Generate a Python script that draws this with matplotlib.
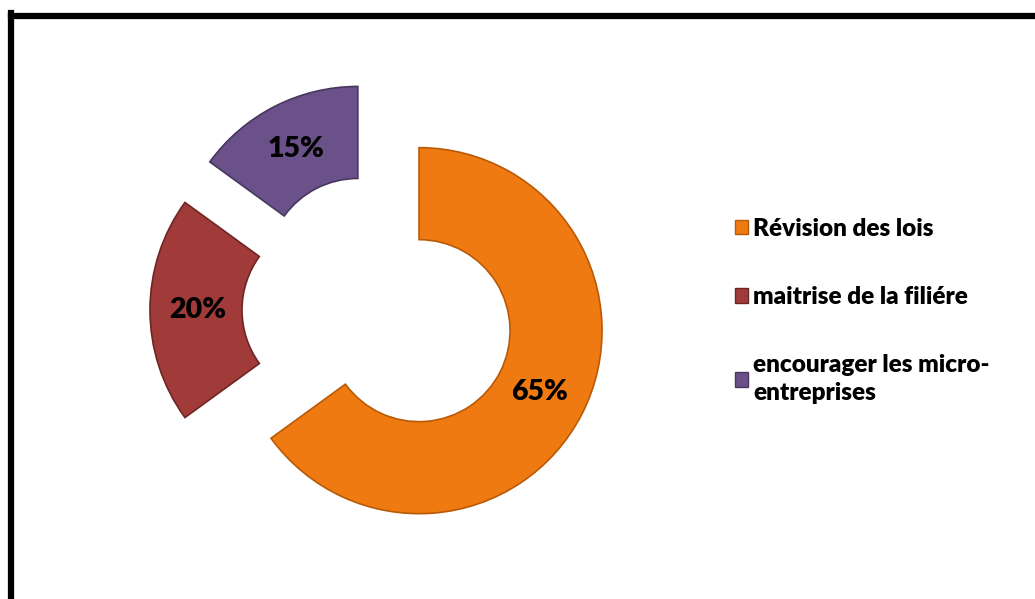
import matplotlib
matplotlib.use("Agg")
import matplotlib.pyplot as plt
from matplotlib.patches import Patch
from matplotlib.lines import Line2D

# données du graphique
categories = ["Révision des lois", "maitrise de la filiére", "encourager les micro-\nentreprises"]
parts = [65, 20, 15]
colors = ["#F07A12", "#A03B39", "#6B5189"]
edges = ["#B85A08", "#6E2624", "#47365D"]

W, H = 1035, 599
fig = plt.figure(figsize=(W / 100, H / 100), dpi=100)
fig.patch.set_facecolor("white")

# axe en coordonnées pixels (y vers le haut)
ax = fig.add_axes([0, 0, 1, 1])

R = 183
cx, cy = 378.5, H - 310
police = ["Lato", "DejaVu Sans"]

wedges, texts, autotexts = ax.pie(
    parts,
    colors=colors,
    startangle=90,
    counterclock=False,
    radius=R,
    center=(cx, cy),
    explode=[45.5] * len(parts),
    pctdistance=0.74,
    autopct=lambda p: f"{p:.0f}%",
    wedgeprops=dict(width=92, linewidth=1.2),
    textprops=dict(fontsize=20.5, fontweight="heavy", color="black", family=police),
    frame=True,
)
for w, ec in zip(wedges, edges):
    w.set_edgecolor(ec)
ax.set_xlim(0, W)
ax.set_ylim(0, H)
ax.set_aspect("equal")
ax.axis("off")

handles = [Patch(facecolor=c, edgecolor=e, linewidth=1) for c, e in zip(colors, edges)]
leg = ax.legend(
    handles, categories,
    loc="upper left",
    bbox_to_anchor=(735, H - 218),
    bbox_transform=ax.transData,
    frameon=False,
    prop=dict(size=17.5, weight="heavy", family=police),
    handlelength=0.52,
    handleheight=0.52,
    handletextpad=0.22,
    labelspacing=1.9,
    borderpad=0,
    borderaxespad=0,
)
leg.get_texts()[2].set_linespacing(1.3)

# cadre noir en haut et à gauche
fig.add_artist(Line2D([11 / W, 11 / W], [0, 1 - 13 / H], color="black", lw=4.5,
                      solid_capstyle="projecting", transform=fig.transFigure))
fig.add_artist(Line2D([11 / W, 1], [1 - 16 / H, 1 - 16 / H], color="black", lw=4.5,
                      solid_capstyle="projecting", transform=fig.transFigure))

fig.savefig("out.png", dpi=100)
